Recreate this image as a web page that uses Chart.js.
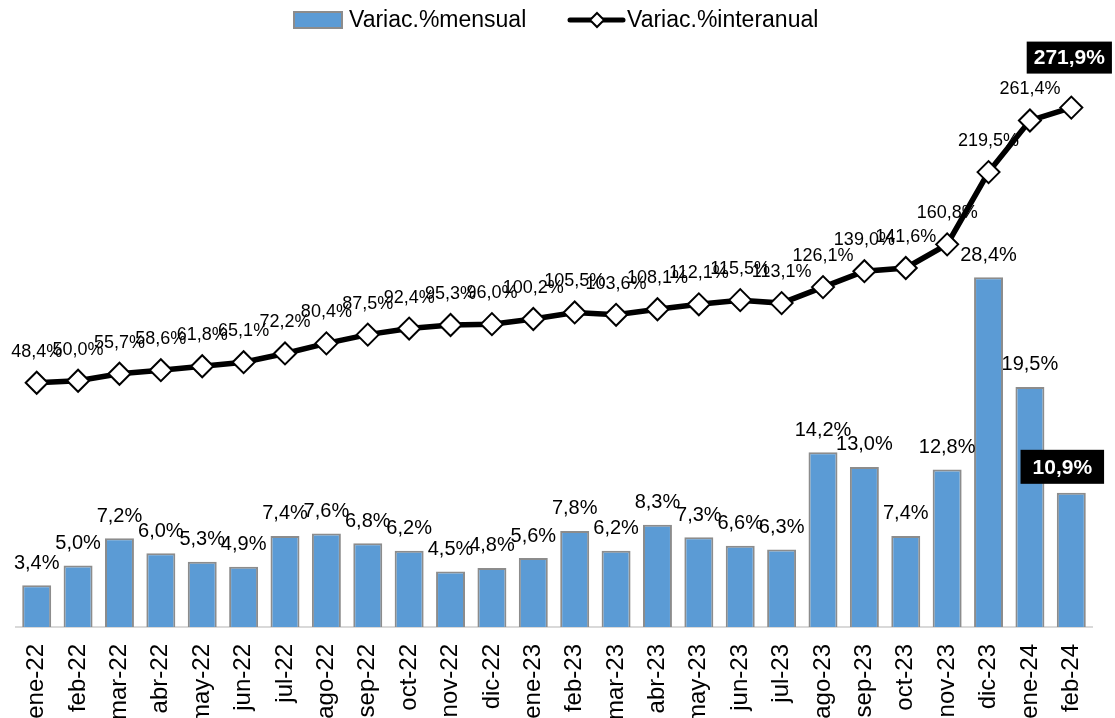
<!DOCTYPE html>
<html>
<head>
<meta charset="utf-8">
<script src="https://cdn.jsdelivr.net/npm/chart.js@4/dist/chart.umd.min.js"></script>
<style>
html,body{margin:0;padding:0;background:#fff;}
#wrap{width:1115px;height:718px;}
</style>
</head>
<body>
<div id="wrap"><canvas id="c" width="1115" height="718"></canvas></div>
<script>
const categories = ["ene-22","feb-22","mar-22","abr-22","may-22","jun-22","jul-22","ago-22","sep-22","oct-22","nov-22","dic-22","ene-23","feb-23","mar-23","abr-23","may-23","jun-23","jul-23","ago-23","sep-23","oct-23","nov-23","dic-23","ene-24","feb-24"];
const mensual = [3.4,5.0,7.2,6.0,5.3,4.9,7.4,7.6,6.8,6.2,4.5,4.8,5.6,7.8,6.2,8.3,7.3,6.6,6.3,14.2,13.0,7.4,12.8,28.4,19.5,10.9];
const interanual = [48.4,50.0,55.7,58.6,61.8,65.1,72.2,80.4,87.5,92.4,95.3,96.0,100.2,105.5,103.6,108.1,112.1,115.5,113.1,126.1,139.0,141.6,160.8,219.5,261.4,271.9];
const seriesNames = ["Variac.%mensual","Variac.%interanual"];

const fmt = v => v.toFixed(1).replace('.', ',') + '%';
const FONT = '"Liberation Sans", Arial, sans-serif';

const labelPlugin = {
  id: 'labels',
  afterDatasetsDraw(chart) {
    const ctx = chart.ctx;
    ctx.save();
    ctx.textAlign = 'center';
    ctx.textBaseline = 'middle';
    // bar labels
    const barMeta = chart.getDatasetMeta(1);
    barMeta.data.forEach((el, i) => {
      const last = i === barMeta.data.length - 1;
      const txt = fmt(mensual[i]);
      if (last) {
        ctx.font = 'bold 21px ' + FONT;
        const w = ctx.measureText(txt).width + 24;
        const cx = el.x - 9, cy = el.y - 26;
        ctx.fillStyle = '#000';
        ctx.fillRect(cx - w/2, cy - 17, w, 34);
        ctx.fillStyle = '#fff';
        ctx.fillText(txt, cx, cy + 1);
      } else {
        ctx.font = '20px ' + FONT;
        ctx.fillStyle = '#000';
        ctx.fillText(txt, el.x, el.y - 22);
      }
    });
    // line labels
    const lineMeta = chart.getDatasetMeta(0);
    lineMeta.data.forEach((el, i) => {
      const last = i === lineMeta.data.length - 1;
      const txt = fmt(interanual[i]);
      if (last) {
        ctx.font = 'bold 21px ' + FONT;
        const w = ctx.measureText(txt).width + 14;
        const cx = el.x - 2, cy = el.y - 50;
        ctx.fillStyle = '#000';
        ctx.fillRect(cx - w/2, cy - 16, w, 32);
        ctx.fillStyle = '#fff';
        ctx.fillText(txt, cx, cy + 1);
      } else {
        ctx.font = '18px ' + FONT;
        ctx.fillStyle = '#000';
        ctx.fillText(txt, el.x, el.y - 31);
      }
    });
    // legend
    ctx.font = '23px ' + FONT;
    ctx.textAlign = 'left';
    ctx.textBaseline = 'middle';
    ctx.fillStyle = '#5B9BD5';
    ctx.fillRect(294, 12, 48, 16);
    ctx.strokeStyle = '#8c8c8c';
    ctx.lineWidth = 2;
    ctx.strokeRect(294, 12, 48, 16);
    ctx.fillStyle = '#000';
    ctx.fillText(seriesNames[0], 349, 21);
    ctx.strokeStyle = '#000';
    ctx.lineWidth = 5;
    ctx.lineCap = 'round';
    ctx.beginPath(); ctx.moveTo(570, 20); ctx.lineTo(623, 20); ctx.stroke();
    ctx.lineCap = 'butt';
    ctx.fillStyle = '#fff';
    ctx.lineWidth = 2;
    ctx.beginPath();
    ctx.moveTo(597, 13); ctx.lineTo(604, 20); ctx.lineTo(597, 27); ctx.lineTo(590, 20); ctx.closePath();
    ctx.fill(); ctx.stroke();
    ctx.fillStyle = '#000';
    ctx.fillText(seriesNames[1], 627, 21);
    ctx.restore();
  }
};

new Chart(document.getElementById('c'), {
  data: {
    labels: categories,
    datasets: [
      {
        type: 'line',
        label: seriesNames[1],
        data: interanual,
        yAxisID: 'y1',
        borderColor: '#000',
        borderWidth: 5.5,
        pointStyle: 'rectRot',
        pointRadius: 11,
        pointBackgroundColor: '#fff',
        pointBorderColor: '#000',
        pointBorderWidth: 2,
        tension: 0,
        order: 0,
        clip: false
      },
      {
        type: 'bar',
        label: seriesNames[0],
        data: mensual,
        yAxisID: 'y',
        backgroundColor: '#5B9BD5',
        borderColor: '#8c8c8c',
        borderWidth: 2,
        barPercentage: 0.7,
        categoryPercentage: 1.0,
        order: 1
      }
    ]
  },
  options: {
    responsive: false,
    animation: false,
    layout: { padding: { top: 73, left: 16, right: 23, bottom: 0 } },
    plugins: { legend: { display: false }, tooltip: { enabled: false } },
    scales: {
      x: {
        grid: { display: false },
        border: { display: true, color: '#d9d9d9', width: 2 },
        ticks: {
          color: '#000',
          font: { family: FONT, size: 24 },
          minRotation: 90, maxRotation: 90, autoSkip: false, padding: 9
        },
        afterFit(scale) { scale.height = 91; }
      },
      y: { display: false, min: 0, max: 45 },
      y1: { display: false, min: -150, max: 300, position: 'right' }
    }
  },
  plugins: [labelPlugin]
});
</script>
</body>
</html>
